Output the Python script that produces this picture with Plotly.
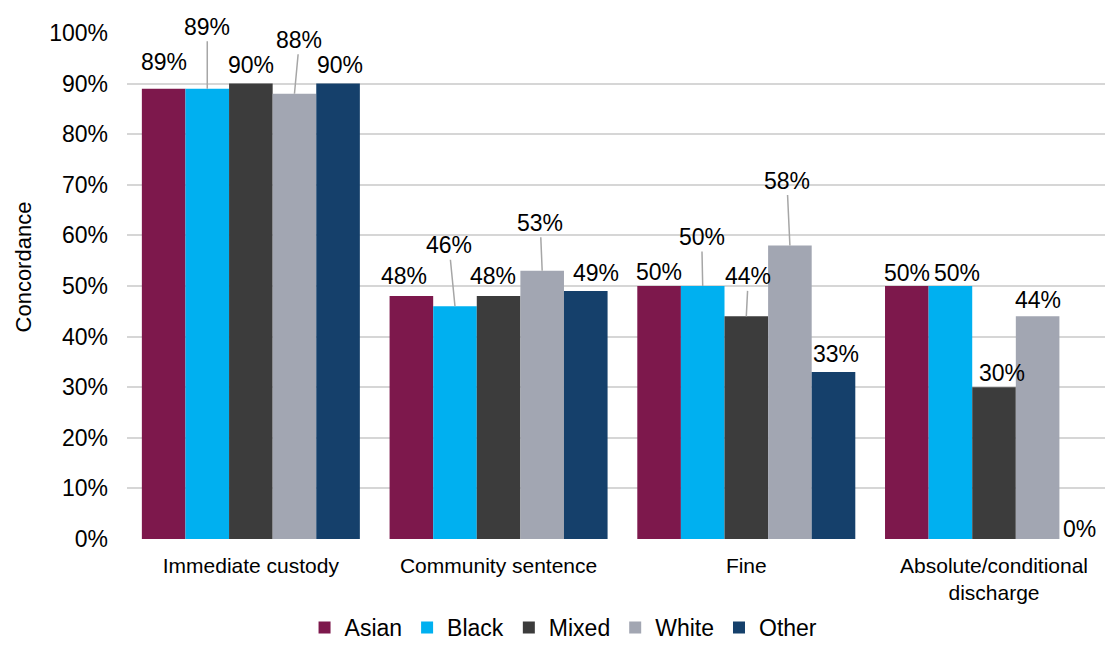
import plotly.graph_objects as go

# Sentence types (x categories) and ethnic groups (series)
categories = ["Immediate custody", "Community sentence", "Fine",
              "Absolute/conditional<br>discharge"]
groups = ["Asian", "Black", "Mixed", "White", "Other"]

asian = [0.89, 0.48, 0.50, 0.50]
black = [0.89, 0.46, 0.50, 0.50]
mixed = [0.90, 0.48, 0.44, 0.30]
white = [0.88, 0.53, 0.58, 0.44]
other = [0.90, 0.49, 0.33, 0.00]

series = [asian, black, mixed, white, other]
colors = ["#7D184C", "#00B0F0", "#3C3C3C", "#A2A6B2", "#15406B"]

y_ticks = [i / 10 for i in range(11)]

FONT = "Arial, 'Liberation Sans', sans-serif"
BARGAP = 0.12
bar_unit = (1 - BARGAP) / len(groups)

# Label placement: (series index, category index) -> (dx px, height above bar top px, leader line)
label_layout = {
    (0, 0): (0, 27, False), (1, 0): (0, 62, True), (2, 0): (0, 19, False),
    (3, 0): (5, 54, True), (4, 0): (2, 19, False),
    (0, 1): (-7, 20, False), (1, 1): (-6, 61, True), (2, 1): (-6, 20, False),
    (3, 1): (-2, 48, True), (4, 1): (10, 18, False),
    (0, 2): (0, 14, False), (1, 2): (-1, 49, True), (2, 2): (2, 40, True),
    (3, 2): (-3, 65, True), (4, 2): (2, 18, False),
    (0, 3): (0, 13, False), (1, 3): (7, 13, False), (2, 3): (8, 14, False),
    (3, 3): (0, 16, False), (4, 3): (-2, 10, False),
}

fig = go.Figure()
for name, vals, col in zip(groups, series, colors):
    fig.add_trace(go.Bar(name=name, x=categories, y=vals,
                         marker=dict(color=col, line=dict(width=0))))

annotations = []
for si, vals in enumerate(series):
    for ci, v in enumerate(vals):
        dx, dy, leader = label_layout[(si, ci)]
        xpos = ci + (si - (len(groups) - 1) / 2) * bar_unit
        text = f"{round(v * 100)}%"
        if leader:
            annotations.append(dict(
                x=xpos, y=v, xref="x", yref="y", text=text,
                showarrow=True, arrowhead=0, arrowwidth=1.5,
                arrowcolor="#A6A6A6", ax=dx, ay=-dy, standoff=0,
                font=dict(family=FONT, size=23, color="#000000")))
        else:
            annotations.append(dict(
                x=xpos, y=v, xref="x", yref="y", text=text,
                showarrow=False, xshift=dx, yshift=dy,
                xanchor="center", yanchor="middle",
                font=dict(family=FONT, size=23, color="#000000")))

# Y-axis title
annotations.append(dict(
    text="Concordance", xref="paper", yref="paper", x=0, y=0.5366,
    xshift=-104, textangle=-90, showarrow=False,
    xanchor="center", yanchor="middle",
    font=dict(family=FONT, size=22, color="#000000")))

fig.update_layout(
    width=1105, height=649,
    margin=dict(l=127, r=0, t=33, b=110, autoexpand=False),
    paper_bgcolor="white", plot_bgcolor="white",
    barmode="group", bargap=BARGAP, bargroupgap=0,
    font=dict(family=FONT, color="#000000"),
    annotations=annotations,
    legend=dict(orientation="h", xref="container", x=0.51, xanchor="center",
                yref="container", y=0.0, yanchor="bottom",
                font=dict(family=FONT, size=23, color="#000000"),
                itemclick=False),
    xaxis=dict(type="category", range=[-0.5, 3.448],
               showgrid=False, showline=False, zeroline=False,
               ticks="", ticklabelstandoff=12,
               tickfont=dict(family=FONT, size=21, color="#000000")),
    yaxis=dict(range=[0, 1], tickvals=y_ticks, tickformat=".0%",
               showgrid=True, gridcolor="#D6D6D6", gridwidth=1.5,
               zeroline=False, showline=False, ticks="",
               ticklabelstandoff=18,
               tickfont=dict(family=FONT, size=23, color="#000000")),
)

fig.write_html("out.html")
